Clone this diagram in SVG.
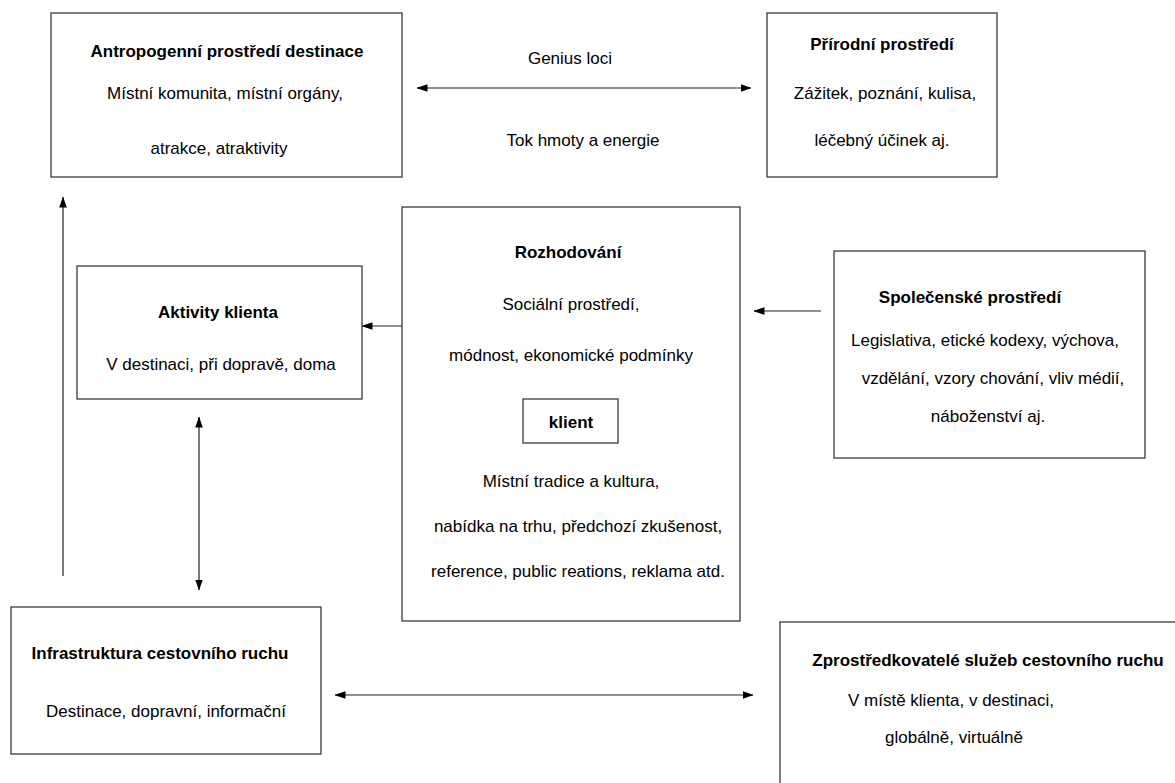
<svg xmlns="http://www.w3.org/2000/svg" width="1175" height="783" viewBox="0 0 1175 783">
<defs>
<marker id="ah" markerWidth="11" markerHeight="10" refX="10.5" refY="5" orient="auto-start-reverse" markerUnits="userSpaceOnUse">
<path d="M0,1.2 L11,5 L0,8.8 z" fill="#000"/>
</marker>
<style>
.box{fill:#fff;stroke:#3a3a3a;stroke-width:1.3}
.t{font-family:"Liberation Sans",Arial,sans-serif;font-size:17px;fill:#000;text-anchor:middle}
.b{font-weight:bold}
.c{fill:none;stroke:#222;stroke-width:1.2}
</style>
</defs>
<rect width="1175" height="783" fill="#fff"/>
<g id="connectors">
<line class="c" x1="417" y1="88" x2="751" y2="88" marker-start="url(#ah)" marker-end="url(#ah)"/>
<line class="c" x1="63" y1="576" x2="63" y2="197" marker-end="url(#ah)"/>
<line class="c" x1="402" y1="326" x2="362" y2="326" marker-end="url(#ah)"/>
<line class="c" x1="821" y1="311" x2="754" y2="311" marker-end="url(#ah)"/>
<line class="c" x1="199" y1="417" x2="199" y2="590" marker-start="url(#ah)" marker-end="url(#ah)"/>
<line class="c" x1="335" y1="695" x2="753" y2="695" marker-start="url(#ah)" marker-end="url(#ah)"/>
</g>
<g id="lbl-genius">
<text class="t" x="570" y="64">Genius loci</text>
<text class="t" x="583" y="146">Tok hmoty a energie</text>
</g>
<g id="antropogenni">
<rect class="box" x="51" y="13" width="351" height="164"/>
<text class="t b" x="227" y="57">Antropogenní prostředí destinace</text>
<text class="t" x="225" y="99">Místní komunita, místní orgány,</text>
<text class="t" x="219" y="154">atrakce, atraktivity</text>
</g>
<g id="prirodni">
<rect class="box" x="767" y="13" width="230" height="164"/>
<text class="t b" x="882" y="50">Přírodní prostředí</text>
<text class="t" x="885" y="99">Zážitek, poznání, kulisa,</text>
<text class="t" x="882" y="146">léčebný účinek aj.</text>
</g>
<g id="aktivity">
<rect class="box" x="77" y="266" width="285" height="133"/>
<text class="t b" x="218" y="318">Aktivity klienta</text>
<text class="t" x="221" y="370">V destinaci, při dopravě, doma</text>
</g>
<g id="rozhodovani">
<rect class="box" x="402" y="207" width="338" height="414"/>
<text class="t b" x="568" y="258">Rozhodování</text>
<text class="t" x="571" y="310">Sociální prostředí,</text>
<text class="t" x="571" y="361">módnost, ekonomické podmínky</text>
<text class="t" x="571" y="487">Místní tradice a kultura,</text>
<text class="t" x="578" y="532">nabídka na trhu, předchozí zkušenost,</text>
<text class="t" x="578" y="577">reference, public reations, reklama atd.</text>
</g>
<g id="klient">
<rect class="box" x="523" y="399" width="95" height="44"/>
<text class="t b" x="571" y="428">klient</text>
</g>
<g id="spolecenske">
<rect class="box" x="834" y="251" width="311" height="207"/>
<text class="t b" x="970" y="303">Společenské prostředí</text>
<text class="t" x="985" y="346">Legislativa, etické kodexy, výchova,</text>
<text class="t" x="993" y="384">vzdělání, vzory chování, vliv médií,</text>
<text class="t" x="988" y="422">náboženství aj.</text>
</g>
<g id="infrastruktura">
<rect class="box" x="11" y="607" width="310" height="147"/>
<text class="t b" x="160" y="659">Infrastruktura cestovního ruchu</text>
<text class="t" x="166" y="717">Destinace, dopravní, informační</text>
</g>
<g id="zprostredkovatele">
<rect class="box" x="780" y="622" width="420" height="200"/>
<text class="t b" x="988" y="666">Zprostředkovatelé služeb cestovního ruchu</text>
<text class="t" x="951" y="706">V místě klienta, v destinaci,</text>
<text class="t" x="954" y="743">globálně, virtuálně</text>
</g>
</svg>
